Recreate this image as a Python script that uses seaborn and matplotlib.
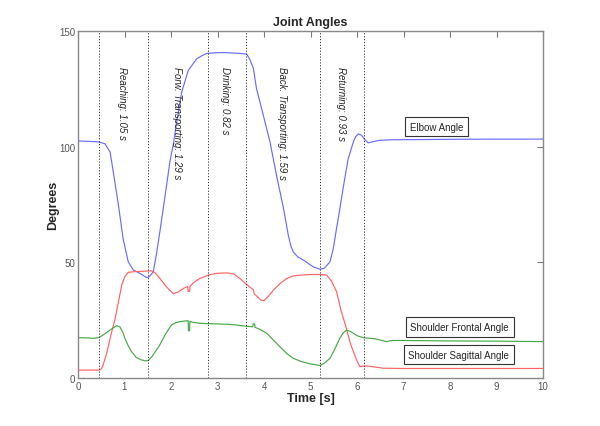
import numpy as np
import pandas as pd
import matplotlib
matplotlib.use("Agg")
import matplotlib.pyplot as plt
import seaborn as sns

# elbow angle (blue)
elbow_t = [0, 0.37, 0.46, 0.58, 0.69, 0.76, 0.87, 0.97, 1.08, 1.19, 1.33, 1.48, 1.53,
           1.62, 1.69, 1.76, 1.91, 1.98, 2.05, 2.12, 2.23, 2.37, 2.55, 2.68, 2.77, 2.95,
           3.15, 3.34, 3.50, 3.63, 3.70, 3.77, 3.84, 3.95, 4.13, 4.27, 4.42, 4.52, 4.58,
           4.63, 4.72, 4.85, 5.06, 5.20, 5.30, 5.42, 5.49, 5.56, 5.63, 5.70, 5.81, 5.92,
           5.97, 6.03, 6.10, 6.17, 6.24, 6.35, 6.46, 6.71, 8.0, 9.0, 10.0]
elbow = [102.5, 102.2, 102.0, 101.3, 97.7, 89, 74.7, 60.3, 50.3, 46.7, 45.3, 43.4, 43.8,
         46, 54, 63.2, 84, 94, 101, 110.6, 123.6, 132.9, 138, 139.5, 140.3, 140.6,
         140.7, 140.5, 140.3, 140, 137.5, 134, 125, 116.4, 102, 87.6, 73.3, 62, 57,
         54.6, 52.5, 51, 48.1, 47.1, 47.5, 50.3, 56, 64.7, 73, 81.9, 94.8, 102,
         104.3, 105.6, 104.9, 103, 101.7, 102.2, 102.7, 103, 103.2, 103.3, 103.3]

# shoulder frontal angle (red)
front_t = [0, 0.46, 0.50, 0.54, 0.62, 0.70, 0.80, 0.87, 0.94, 1.01, 1.08, 1.20, 1.40, 1.58,
           1.66, 1.76, 1.90, 2.05, 2.15, 2.27, 2.36, 2.37, 2.40, 2.41, 2.50, 2.62, 2.80, 2.98,
           3.20, 3.35, 3.48, 3.60, 3.73, 3.77, 3.79, 3.84, 3.94, 4.00, 4.10, 4.20, 4.35, 4.49,
           4.63, 4.77, 5.00, 5.20, 5.35, 5.45, 5.56, 5.66, 5.77, 5.85, 5.92, 6.00, 6.06, 6.20,
           6.40, 6.56, 7.0, 8.0, 9.0, 10.0]
front = [3.5, 3.5, 4.0, 5.7, 11, 18, 25.9, 33, 40.2, 44, 45.7, 46, 46.2, 46.4,
         45.5, 43.1, 39.5, 36.5, 37.2, 38.8, 39.6, 37.5, 37.5, 39.8, 41.5, 43.1, 44.5, 45.3,
         45.5, 45, 43.1, 41, 38.8, 38.3, 36.5, 35.5, 33.6, 33.5, 35.5, 38, 41, 43.1,
         44.2, 44.5, 44.8, 44.8, 44.5, 42, 37.4, 29, 21.6, 15.5, 11.5, 7.5, 5.0, 5.3,
         4.8, 4.3, 4.2, 4.2, 4.2, 4.2]

# shoulder sagittal angle (green)
sag_t = [0, 0.20, 0.33, 0.46, 0.55, 0.69, 0.83, 0.90, 0.96, 1.01, 1.08, 1.15, 1.25, 1.35,
         1.44, 1.51, 1.60, 1.68, 1.76, 1.88, 2.01, 2.10, 2.19, 2.33, 2.37, 2.375, 2.40, 2.405,
         2.45, 2.62, 2.90, 3.20, 3.40, 3.59, 3.76, 3.765, 3.80, 3.805, 3.90, 4.06, 4.20, 4.34,
         4.50, 4.63, 4.80, 4.99, 5.20, 5.30, 5.42, 5.52, 5.63, 5.70, 5.77, 5.85, 5.92, 6.02,
         6.14, 6.30, 6.42, 6.55, 6.63, 6.75, 6.92, 8.0, 9.0, 10.0]
sag = [17.5, 17.4, 17.2, 17.6, 18.8, 20.8, 22.7, 22.2, 20, 17.2, 14, 11.5, 9, 8,
       7.5, 7.6, 9.5, 12, 14.4, 19, 23, 24, 24.4, 24.8, 24.8, 20.5, 20.5, 24.6,
       24.2, 23.7, 23.5, 23.3, 23, 22.5, 22.2, 23.5, 23.5, 22, 21.2, 19.4, 16.5, 13.6,
       10.5, 8.6, 7.2, 6.2, 5.5, 6.5, 8.6, 12.5, 17.2, 19.5, 20.7, 20.3, 19.4, 18.2,
       17.5, 17.2, 16.9, 16.2, 15.8, 16.3, 16.3, 16.1, 16.0, 15.8]

# phase boundaries and labels
bounds = [0.46, 1.51, 2.80, 3.62, 5.21, 6.14]
phases = ["Reaching: 1.05 s", "Forw. Transporting: 1.29 s", "Drinking: 0.82 s",
          "Back. Transporting: 1.59 s", "Returning: 0.93 s"]
phase_x = [0.94, 2.12, 3.16, 4.38, 5.65]

names = ["Elbow Angle", "Shoulder Frontal Angle", "Shoulder Sagittal Angle"]
name_xy = [(7.71, 108.7), (8.21, 22.0), (8.19, 10.2)]

sns.set_style("white")
plt.rcParams['font.family'] = ['Liberation Sans', 'DejaVu Sans']

fig = plt.figure(figsize=(6, 4.27), dpi=100)
ax = fig.add_axes([0.13, 0.112, 0.775, 0.813])

for t, v, c in [(elbow_t, elbow, '#6b6bff'), (front_t, front, '#ff6262'), (sag_t, sag, '#45aa45')]:
    d = pd.DataFrame({'t': t, 'v': v})
    sns.lineplot(data=d, x='t', y='v', color=c, lw=0.85, estimator=None, sort=False, ax=ax)

for b in bounds:
    ax.axvline(b, color='#333333', ls=(0, (1.2, 1.8)), lw=0.7)

for x, s in zip(phase_x, phases):
    ax.text(x, 135, s, rotation=270, va='top', ha='center', fontsize=7, style='italic')

for (x, y), s in zip(name_xy, names):
    ax.text(x, y, s, ha='center', va='center', fontsize=7,
            bbox=dict(boxstyle='square,pad=0.5', fc='white', ec='#333333', lw=0.8))

ax.set_xlim(0, 10)
ax.set_ylim(0, 150)
ax.set_xticks(range(0, 11))
ax.set_yticks([0, 50, 100, 150])
ax.tick_params(direction='in', length=4, width=0.8, top=True, right=True,
               labelsize=7, labelcolor='#555555', color='#777777', pad=2)
for sp in ax.spines.values():
    sp.set_color('#888888')
    sp.set_linewidth(1.0)
ax.set_xlabel("Time [s]", fontsize=9, fontweight='bold', labelpad=1)
ax.set_ylabel("Degrees", fontsize=9, fontweight='bold', labelpad=0)
ax.set_title("Joint Angles", fontsize=9, fontweight='bold', pad=4)

fig.savefig("out.png", dpi=100)
